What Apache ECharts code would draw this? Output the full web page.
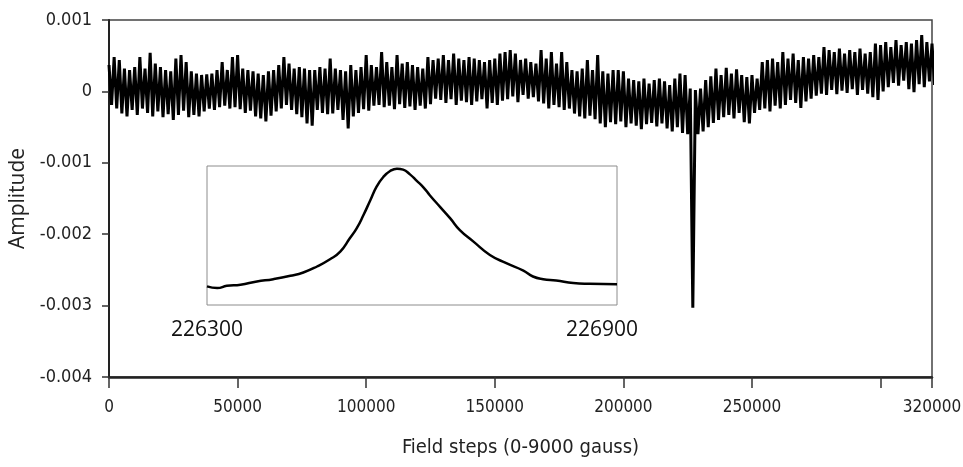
<!DOCTYPE html>
<html>
<head>
<meta charset="utf-8">
<script src="https://cdn.jsdelivr.net/npm/echarts@6/dist/echarts.min.js"></script>
<style>
  html, body { margin: 0; padding: 0; background: #fff; }
  #chart { width: 963px; height: 467px; }
</style>
</head>
<body>
<div id="chart"></div>
<script>
// field step spacing of the envelope bins
var binStep = 2000;

// upper / lower envelope of the noisy trace, in units of 1e-4
var upper = [
  3.7, 4.8, 4.4, 3.2, 3.0, 3.4, 4.8, 3.2, 5.4, 3.9,
  3.4, 3.0, 2.8, 4.6, 5.1, 4.1, 2.8, 2.5, 2.3, 2.4,
  2.5, 3.0, 4.1, 3.0, 4.8, 5.1, 3.2, 3.0, 2.8, 2.5,
  2.3, 2.8, 3.0, 3.7, 4.8, 3.9, 3.2, 3.4, 3.2, 3.0,
  3.0, 3.4, 3.2, 4.6, 3.2, 3.0, 2.8, 3.7, 3.0, 3.4,
  5.1, 3.7, 3.4, 5.5, 4.1, 3.4, 5.1, 3.9, 4.1, 3.7,
  3.4, 3.2, 4.8, 4.4, 4.6, 5.1, 4.4, 5.3, 4.6, 4.4,
  4.8, 4.6, 4.4, 4.1, 4.4, 4.6, 5.3, 5.5, 5.8, 5.3,
  4.4, 4.6, 4.1, 3.9, 5.8, 4.6, 5.5, 3.9, 5.5, 4.1,
  3.0, 2.8, 3.2, 4.4, 3.0, 5.1, 2.8, 2.5, 3.0, 3.0,
  2.8, 1.8, 1.6, 1.4, 1.8, 1.1, 1.6, 1.8, 1.4, 0.9,
  1.8, 2.5, 2.3, 0.4, 0.2, 0.4, 1.6, 2.1, 3.2, 2.3,
  3.3, 2.5, 3.1, 2.3, 2.0, 2.3, 1.8, 4.1, 4.4, 4.6,
  4.1, 5.5, 4.6, 5.3, 4.4, 4.8, 4.6, 5.1, 4.8, 6.2,
  5.8, 5.5, 6.0, 5.3, 5.8, 5.5, 6.0, 5.3, 5.5, 6.7,
  6.5, 6.9, 6.2, 7.2, 6.5, 6.9, 6.7, 7.2, 7.9, 6.9,
  6.7
];
var lower = [
  -1.9, -2.4, -3.1, -3.5, -2.6, -3.3, -2.4, -3.0, -3.5, -2.8,
  -3.6, -3.2, -4.0, -3.3, -2.7, -3.6, -3.3, -3.5, -2.8, -2.4,
  -2.6, -2.2, -2.0, -2.4, -2.2, -2.5, -3.0, -2.7, -3.5, -3.8,
  -4.2, -3.4, -2.8, -2.4, -1.9, -2.6, -3.2, -3.6, -4.5, -4.8,
  -2.6, -3.0, -3.2, -3.1, -2.6, -4.0, -5.2, -3.5, -3.0, -2.5,
  -2.7, -2.0, -1.9, -2.2, -2.0, -2.5, -1.8, -2.3, -2.1, -2.6,
  -2.0, -2.4, -1.8, -1.0, -1.2, -1.6, -1.1, -1.9, -1.3, -1.5,
  -1.9, -1.4, -1.1, -2.4, -1.6, -1.9, -1.3, -1.1, -0.7, -1.5,
  -0.5, -1.0, -0.8, -1.4, -1.7, -2.4, -1.9, -2.2, -2.6, -2.4,
  -3.1, -3.5, -3.8, -3.4, -3.9, -4.5, -5.0, -4.3, -4.6, -4.2,
  -5.0, -4.5, -4.8, -5.3, -4.6, -4.4, -4.9, -4.5, -5.2, -5.6,
  -5.0, -5.8, -6.0, -30.3, -6.0, -5.6, -5.0, -4.4, -4.0, -3.6,
  -3.3, -3.8, -3.0, -4.3, -4.5, -3.0, -2.6, -2.4, -2.8, -2.0,
  -2.4, -1.9, -1.2, -1.6, -2.3, -1.4, -1.0, -0.6, -0.3, -0.5,
  0.2, -0.4, 0.1, -0.2, 0.3, -0.5, 0.2, -0.3, -0.8, -1.2,
  0.0, 0.6, 1.2, 0.8, 1.5, 0.3, -0.1, 1.0, 0.6, 1.4,
  0.9
];

// inset: zoom on the line, relative amplitude
var insetSteps = [
  226300, 226315, 226329, 226349, 226373, 226397, 226422, 226441, 226461, 226480,
  226495, 226509, 226519, 226529, 226539, 226548, 226558, 226568, 226578, 226587,
  226597, 226607, 226617, 226626, 226641, 226656, 226670, 226690, 226714, 226738,
  226763, 226777, 226792, 226811, 226836, 226860, 226900
];
var insetSignal = [
  0.134, 0.122, 0.138, 0.146, 0.169, 0.186, 0.210, 0.234, 0.277, 0.329,
  0.384, 0.480, 0.551, 0.647, 0.754, 0.850, 0.921, 0.964, 0.981, 0.974,
  0.940, 0.893, 0.845, 0.790, 0.706, 0.623, 0.539, 0.456, 0.360, 0.301,
  0.248, 0.205, 0.186, 0.177, 0.158, 0.153, 0.150
];
var insetLabels = ['226300', '226900'];

var cond = "'DejaVu Sans Condensed', 'DejaVu Sans', sans-serif";

var mainData = [];
for (var i = 0; i < upper.length; i++) {
  mainData.push([i * binStep, upper[i] * 1e-4]);
  mainData.push([i * binStep + binStep / 2, lower[i] * 1e-4]);
}
var insetData = insetSteps.map(function (s, k) { return [s, insetSignal[k]]; });

var myChart = echarts.init(document.getElementById('chart'));
var option = {
  animation: false,
  backgroundColor: '#fff',
  grid: [
    {
      left: 109, right: 31, top: 20, bottom: 90,
      outerBoundsMode: 'none', containLabel: false,
      show: true, borderColor: '#444', borderWidth: 1.5
    },
    {
      left: 207, top: 166, width: 410, height: 139,
      outerBoundsMode: 'none', containLabel: false,
      show: true, borderColor: '#8c8c8c', borderWidth: 1, backgroundColor: '#fff'
    }
  ],
  xAxis: [
    {
      type: 'value', gridIndex: 0, position: 'bottom', min: 0, max: 320000, interval: 50000,
      name: 'Field steps (0-9000 gauss)', nameLocation: 'middle', nameGap: 61,
      nameTextStyle: { fontFamily: cond, fontSize: 20, color: '#222' },
      axisLine: { show: true, onZero: false, lineStyle: { color: '#222', width: 2.5 } },
      axisTick: { show: true, inside: false, length: 11, lineStyle: { color: '#333', width: 1.5 } },
      axisLabel: {
        margin: 22, fontFamily: cond, fontSize: 17, color: '#222',
        formatter: function (v) { return v === 300000 ? '' : String(v); }
      },
      splitLine: { show: false }
    },
    {
      type: 'value', gridIndex: 1, min: 226300, max: 226900, show: false
    }
  ],
  yAxis: [
    {
      type: 'value', gridIndex: 0, position: 'left', min: -0.004, max: 0.001, interval: 0.001,
      name: 'Amplitude', nameLocation: 'middle', nameGap: 76,
      nameTextStyle: { fontFamily: "'Open Sans', sans-serif", fontSize: 21, color: '#222' },
      axisLine: { show: true, onZero: false, lineStyle: { color: '#222', width: 2 } },
      axisTick: { show: true, inside: false, length: 7, lineStyle: { color: '#333', width: 1.5 } },
      axisLabel: {
        margin: 17, fontFamily: cond, fontSize: 18, color: '#222',
        formatter: function (v) { return v === 0 ? '0' : v.toFixed(3); }
      },
      splitLine: { show: false }
    },
    {
      type: 'value', gridIndex: 1, min: 0, max: 1, show: false
    }
  ],
  graphic: [
    {
      type: 'text',
      style: { text: insetLabels[0], fill: '#111', font: "21px 'Open Sans', sans-serif", align: 'center', verticalAlign: 'middle' },
      x: 207, y: 330
    },
    {
      type: 'text',
      style: { text: insetLabels[1], fill: '#111', font: "21px 'Open Sans', sans-serif", align: 'center', verticalAlign: 'middle' },
      x: 602, y: 330
    }
  ],
  series: [
    {
      type: 'line', xAxisIndex: 0, yAxisIndex: 0,
      data: mainData, showSymbol: false, sampling: false,
      lineStyle: { color: '#000', width: 3 }
    },
    {
      type: 'line', xAxisIndex: 1, yAxisIndex: 1,
      data: insetData, showSymbol: false, smooth: 0.5,
      lineStyle: { color: '#000', width: 2.5 }
    }
  ]
};
myChart.setOption(option);
</script>
</body>
</html>
